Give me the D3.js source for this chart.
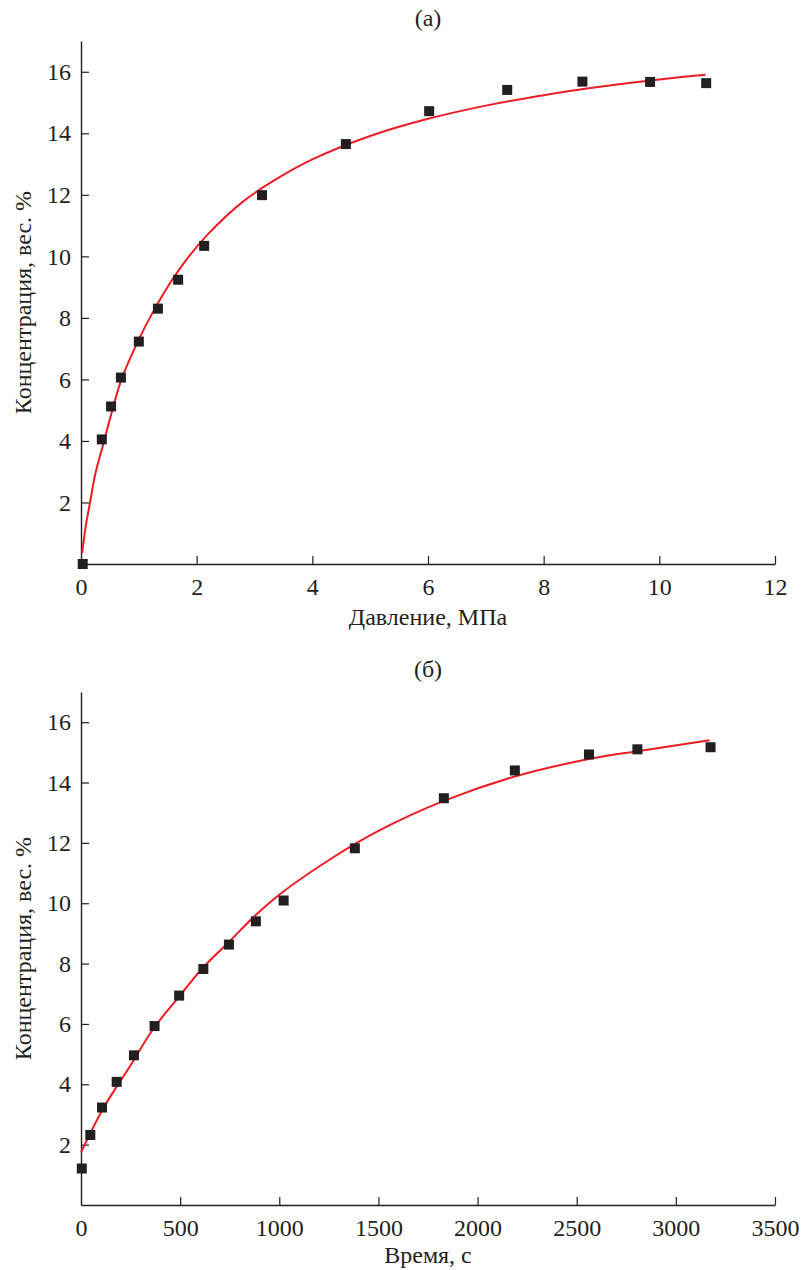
<!DOCTYPE html>
<html>
<head>
<meta charset="utf-8">
<script src="https://cdn.jsdelivr.net/npm/d3@7"></script>
<style>
  body { margin: 0; background: #fff; }
  svg { display: block; }
  svg text { font-family: "Liberation Serif", "Times New Roman", Tinos, "DejaVu Serif", serif; }
</style>
</head>
<body>
<svg id="chart" width="803" height="1270"></svg>
<script>
// Panel (а): concentration vs pressure
const pressurePts = [0.03, 0.36, 0.52, 0.69, 1.0, 1.33, 1.68, 2.13, 3.13, 4.58, 6.02, 7.37, 8.67, 9.84, 10.81];
const pressureConc = [0.0, 4.05, 5.12, 6.06, 7.23, 8.3, 9.24, 10.34, 11.99, 13.65, 14.72, 15.41, 15.68, 15.67, 15.63];
const pressureFitX = [0.02, 0.08, 0.156, 0.25, 0.4, 0.52, 0.7, 1.0, 1.19, 1.5, 1.83, 2.2, 2.8, 3.44, 4, 5, 6, 7, 8, 9, 10, 10.8];
const pressureFitY = [0.35, 1.2, 2.0, 2.95, 4.0, 4.85, 6.0, 7.3, 8.0, 9.01, 9.91, 10.73, 11.78, 12.58, 13.15, 13.91, 14.47, 14.9, 15.24, 15.52, 15.75, 15.9];
const pressureTicks = [0, 2, 4, 6, 8, 10, 12];

// Panel (б): concentration vs time
const timePts = [4, 47, 106, 180, 267, 371, 495, 617, 746, 882, 1022, 1381, 1830, 2188, 2562, 2806, 3175];
const timeConc = [1.21, 2.32, 3.23, 4.08, 4.96, 5.93, 6.94, 7.82, 8.63, 9.4, 10.09, 11.82, 13.48, 14.4, 14.93, 15.1, 15.17];
const timeFitX = [0, 112, 247, 365, 500, 617, 751, 880, 1003, 1255, 1507, 1830, 2188, 2562, 2806, 3170];
const timeFitY = [1.74, 3.2, 4.6, 5.84, 6.95, 7.88, 8.75, 9.6, 10.3, 11.45, 12.42, 13.39, 14.2, 14.78, 15.04, 15.4];
const timeTicks = [0, 500, 1000, 1500, 2000, 2500, 3000, 3500];

const concTicks = [2, 4, 6, 8, 10, 12, 14, 16];
const yLabel = "Концентрация, вес. %";

const ink = "#231f20";
const red = "#ed1c24";
const serif = "'Liberation Serif', 'Times New Roman', Tinos, 'DejaVu Serif', serif";

const svg = d3.select("#chart");

/**
 * Draw one panel
 */
const drawPanel = (opts) => {
  const { top, bottom, xMax, xTicks, pts, conc, fitX, fitY, title, xLabel, xLabelY } = opts;
  const left = 81, right = 775;

  const x = d3.scaleLinear().domain([0, xMax]).range([left, right]);
  const y = d3.scaleLinear().domain([0, 17]).range([bottom, top]);

  const g = svg.append("g");

  // axes with inward ticks
  const xAxis = g.append("g")
    .attr("transform", `translate(0,${bottom})`)
    .call(d3.axisBottom(x).tickValues(xTicks).tickFormat(d3.format("d"))
      .tickSizeInner(-8).tickSizeOuter(0).tickPadding(14));
  xAxis.selectAll(".tick line").filter(d => d === 0).remove();

  const yAxis = g.append("g")
    .attr("transform", `translate(${left},0)`)
    .call(d3.axisLeft(y).tickValues(concTicks).tickSizeInner(-8).tickSizeOuter(0).tickPadding(10));

  [xAxis, yAxis].forEach(a => {
    a.attr("font-family", serif);
    a.select(".domain").attr("stroke", ink).attr("stroke-width", 1.4);
    a.selectAll(".tick line").attr("stroke", ink).attr("stroke-width", 1.2);
    a.selectAll(".tick text")
      .attr("fill", ink)
      .style("font-size", "24px");
  });

  // fitted curve
  const line = d3.line()
    .x(d => x(d[0]))
    .y(d => y(d[1]))
    .curve(d3.curveCatmullRom);

  g.append("path")
    .datum(fitX.map((v, i) => [v, fitY[i]]))
    .attr("fill", "none")
    .attr("stroke", red)
    .attr("stroke-width", 2)
    .attr("d", line);

  // measured points
  const s = 10;
  g.selectAll("rect.pt")
    .data(pts.map((v, i) => [v, conc[i]]))
    .enter()
    .append("rect")
    .attr("class", "pt")
    .attr("x", d => x(d[0]) - s / 2)
    .attr("y", d => y(d[1]) - s / 2)
    .attr("width", s)
    .attr("height", s)
    .attr("fill", ink);

  // titles
  g.append("text")
    .attr("x", (left + right) / 2)
    .attr("y", top - 15)
    .attr("text-anchor", "middle")
    .attr("fill", ink)
    .style("font-size", "24px")
    .text(title);

  g.append("text")
    .attr("x", (left + right) / 2)
    .attr("y", xLabelY)
    .attr("text-anchor", "middle")
    .attr("fill", ink)
    .style("font-size", "24px")
    .text(xLabel);

  g.append("text")
    .attr("transform", `translate(31,${(top + bottom) / 2}) rotate(-90)`)
    .attr("text-anchor", "middle")
    .attr("fill", ink)
    .style("font-size", "24px")
    .text(yLabel);
};

drawPanel({
  top: 41, bottom: 564, xMax: 12, xTicks: pressureTicks,
  pts: pressurePts, conc: pressureConc, fitX: pressureFitX, fitY: pressureFitY,
  title: "(а)", xLabel: "Давление, МПа", xLabelY: 625
});

drawPanel({
  top: 692, bottom: 1205, xMax: 3500, xTicks: timeTicks,
  pts: timePts, conc: timeConc, fitX: timeFitX, fitY: timeFitY,
  title: "(б)", xLabel: "Время, с", xLabelY: 1263
});
</script>
</body>
</html>
